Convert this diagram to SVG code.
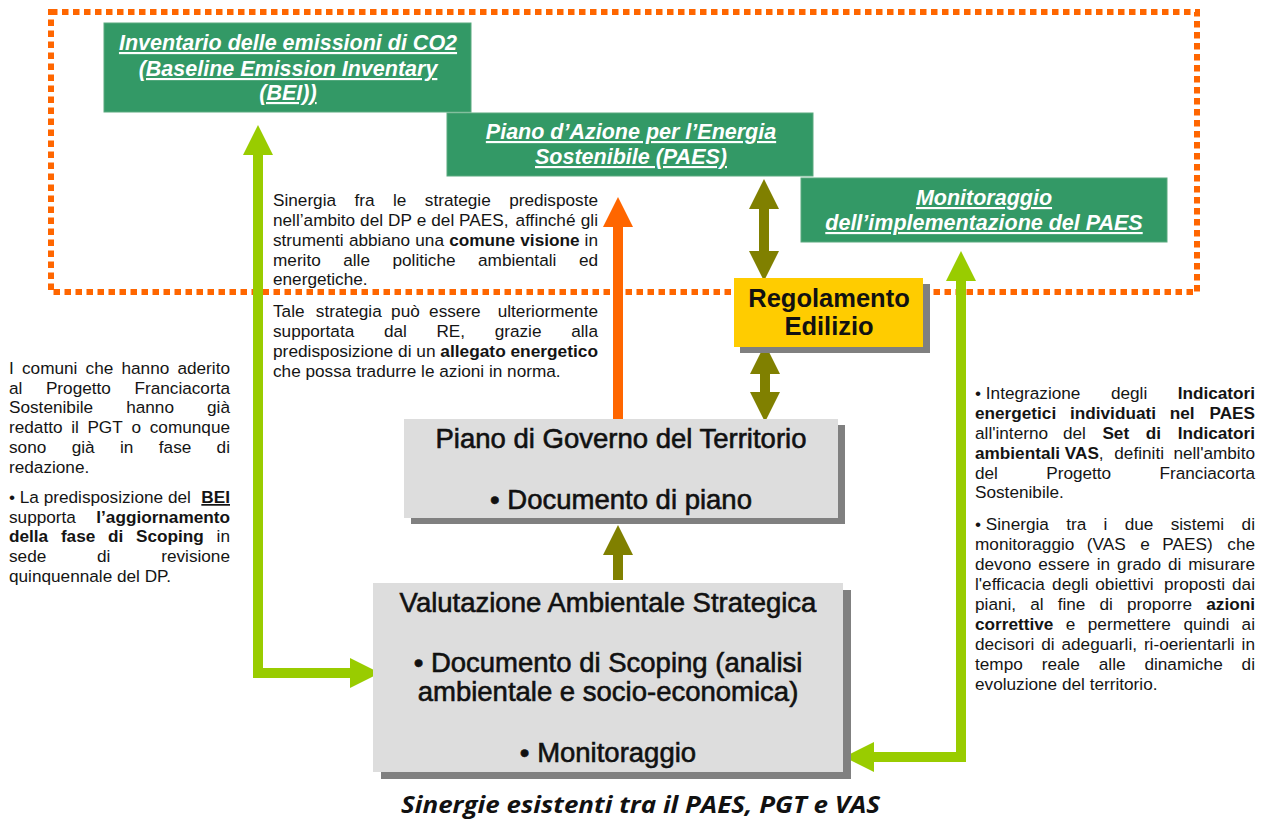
<svg xmlns="http://www.w3.org/2000/svg" width="1265" height="820" viewBox="0 0 1265 820">
<defs>
<style>
.t{font-family:"Liberation Sans",Arial,sans-serif;font-size:17.2px;fill:#141414}
.e{text-anchor:end}
.b{font-weight:bold}
.u{text-decoration:underline}
.g{font-family:"Liberation Sans",Arial,sans-serif;font-size:21.5px;font-style:italic;font-weight:bold;fill:#fff;text-decoration:underline;text-anchor:middle}
.bx{font-family:"Liberation Sans",Arial,sans-serif;font-size:27.5px;fill:#111;stroke:#111;stroke-width:0.6;text-anchor:middle}
.gb{fill:#339966;stroke:#5aa97f;stroke-width:1}
.gray{fill:#dddddd}
.sh{fill:#808080}
.c{fill:none;stroke-width:10;stroke-linejoin:miter}
</style>
<marker id="hG" markerUnits="userSpaceOnUse" markerWidth="30" markerHeight="30" viewBox="0 0 30 30" refX="0" refY="15" orient="auto-start-reverse"><path d="M0,0 L30,15 L0,30 z" fill="#99cc00"/></marker>
<marker id="hO" markerUnits="userSpaceOnUse" markerWidth="30" markerHeight="30" viewBox="0 0 30 30" refX="0" refY="15" orient="auto-start-reverse"><path d="M0,0 L30,15 L0,30 z" fill="#ff6600"/></marker>
<marker id="hV" markerUnits="userSpaceOnUse" markerWidth="30" markerHeight="30" viewBox="0 0 30 30" refX="0" refY="15" orient="auto-start-reverse"><path d="M0,0 L30,15 L0,30 z" fill="#808000"/></marker>
</defs>
<rect width="1265" height="820" fill="#fff"/>

<rect id="frame" x="51" y="12" width="1146" height="280" fill="none" stroke="#ff6600" stroke-width="6" stroke-dasharray="6.5 4.5"/>

<g id="bei">
<rect class="gb" x="104" y="23" width="367" height="89"/>
<text class="g" x="288" y="50">Inventario delle emissioni di CO2</text>
<text class="g" x="288" y="76">(Baseline Emission Inventary</text>
<text class="g" x="288" y="100">(BEI))</text>
</g>

<g id="paes">
<rect class="gb" x="447" y="113" width="366" height="63"/>
<text class="g" x="631" y="139">Piano d’Azione per l’Energia</text>
<text class="g" x="631" y="164">Sostenibile (PAES)</text>
</g>

<g id="monit">
<rect class="gb" x="801" y="178" width="366" height="64"/>
<text class="g" x="984" y="205">Monitoraggio</text>
<text class="g" x="984" y="230">dell’implementazione del PAES</text>
</g>

<g id="connectors">
<path class="c" stroke="#99cc00" d="M258,155 V673 H350" marker-start="url(#hG)" marker-end="url(#hG)"/>
<path class="c" stroke="#99cc00" d="M961,281 V757 H874" marker-start="url(#hG)" marker-end="url(#hG)"/>
<path class="c" stroke="#ff6600" d="M618,419 V227" marker-end="url(#hO)"/>
<path class="c" stroke="#808000" d="M764,209 V251" marker-start="url(#hV)" marker-end="url(#hV)"/>
<path class="c" stroke="#808000" d="M765,374 V392" marker-start="url(#hV)" marker-end="url(#hV)"/>
<path class="c" stroke="#808000" d="M618,580 V555" marker-end="url(#hV)"/>
</g>

<g id="re">
<rect class="sh" x="740" y="284" width="190" height="69"/>
<rect x="734" y="278" width="189" height="69" fill="#ffcc00"/>
<text x="829" y="307" font-family="Liberation Sans, Arial, sans-serif" font-size="25.5" font-weight="bold" fill="#111" text-anchor="middle">Regolamento</text>
<text x="829" y="335" font-family="Liberation Sans, Arial, sans-serif" font-size="25.5" font-weight="bold" fill="#111" text-anchor="middle">Edilizio</text>
</g>

<g id="pgt">
<rect class="sh" x="411" y="425" width="434" height="99"/>
<rect class="gray" x="404" y="419" width="434" height="99"/>
<text class="bx" x="621" y="448">Piano di Governo del Territorio</text>
<text class="bx" x="621" y="509">• Documento di piano</text>
</g>

<g id="vas">
<rect class="sh" x="381" y="590" width="470" height="189"/>
<rect class="gray" x="373" y="583" width="470" height="189"/>
<text class="bx" x="608" y="612">Valutazione Ambientale Strategica</text>
<text class="bx" x="608" y="672">• Documento di Scoping (analisi</text>
<text class="bx" x="608" y="701">ambientale e socio-economica)</text>
<text class="bx" x="608" y="762">• Monitoraggio</text>
</g>

<g id="note-middle" class="t">
<text y="206"><tspan x="273">Sinergia</tspan><tspan x="354.5">fra</tspan><tspan x="393">le</tspan><tspan x="424.8">strategie</tspan></text>
<text class="e" x="598" y="206">predisposte</text>
<text y="226"><tspan x="273">nell’ambito</tspan><tspan x="360.1">del</tspan><tspan x="388">DP</tspan><tspan x="416.8">e</tspan><tspan x="431.3">del</tspan><tspan x="459.1">PAES,</tspan><tspan x="515.6">affinché</tspan></text>
<text class="e" x="598" y="226">gli</text>
<text y="246"><tspan x="273">strumenti</tspan><tspan x="348.9">abbiano</tspan><tspan x="415.3">una</tspan><tspan x="449.2" class="b">comune</tspan><tspan x="520.3" class="b">visione</tspan></text>
<text class="e" x="598" y="246">in</text>
<text y="266"><tspan x="273">merito</tspan><tspan x="343.2">alle</tspan><tspan x="392.5">politiche</tspan><tspan x="478">ambientali</tspan></text>
<text class="e" x="598" y="266">ed</text>
<text x="273" y="285">energetiche.</text>
<text y="317"><tspan x="273">Tale</tspan><tspan x="315.8">strategia</tspan><tspan x="391.1">può</tspan><tspan x="429.1">essere</tspan></text>
<text class="e" x="598" y="317">ulteriormente</text>
<text y="337"><tspan x="273">supportata</tspan><tspan x="383.9">dal</tspan><tspan x="436.4">RE,</tspan><tspan x="494.7">grazie</tspan></text>
<text class="e" x="598" y="337">alla</text>
<text x="273" y="357" textLength="325" lengthAdjust="spacingAndGlyphs">predisposizione di un <tspan class="b">allegato energetico</tspan></text>
<text x="273" y="377">che possa tradurre le azioni in norma.</text>
</g>

<g id="note-left" class="t">
<text y="374"><tspan x="9">I</tspan><tspan x="22">comuni</tspan><tspan x="85.6">che</tspan><tspan x="121.5">hanno</tspan></text>
<text class="e" x="230" y="374">aderito</text>
<text y="394"><tspan x="9">al</tspan><tspan x="45.9">Progetto</tspan></text>
<text class="e" x="230" y="394">Franciacorta</text>
<text y="413"><tspan x="9">Sostenibile</tspan><tspan x="126.2">hanno</tspan></text>
<text class="e" x="230" y="413">già</text>
<text y="433"><tspan x="9">redatto</tspan><tspan x="71.2">il</tspan><tspan x="87.4">PGT</tspan><tspan x="131.5">o</tspan></text>
<text class="e" x="230" y="433">comunque</text>
<text y="453"><tspan x="9">sono</tspan><tspan x="71.7">già</tspan><tspan x="120">in</tspan><tspan x="158.8">fase</tspan></text>
<text class="e" x="230" y="453">di</text>
<text x="9" y="473">redazione.</text>
<text x="9" y="503">• La predisposizione del</text>
<text class="e b u" x="230" y="503">BEI</text>
<text x="9" y="523">supporta</text>
<text class="e b" x="230" y="523">l’aggiornamento</text>
<text y="542" class="b"><tspan x="9">della</tspan><tspan x="60.9">fase</tspan><tspan x="108">di</tspan><tspan x="136">Scoping</tspan></text>
<text class="e" x="230" y="542">in</text>
<text y="562"><tspan x="9">sede</tspan><tspan x="97">di</tspan></text>
<text class="e" x="230" y="562">revisione</text>
<text x="9" y="582">quinquennale del DP.</text>
</g>

<g id="note-right" class="t">
<text y="399"><tspan x="975">• Integrazione</tspan><tspan x="1110.9">degli</tspan></text>
<text class="e b" x="1255" y="399">Indicatori</text>
<text y="419" class="b"><tspan x="975">energetici</tspan><tspan x="1070">individuati</tspan><tspan x="1169.7">nel</tspan></text>
<text class="e b" x="1255" y="419">PAES</text>
<text y="439"><tspan x="975">all'interno</tspan><tspan x="1062.9">del</tspan><tspan x="1102.4" class="b">Set</tspan><tspan x="1145.8" class="b">di</tspan></text>
<text class="e b" x="1255" y="439">Indicatori</text>
<text y="459"><tspan x="975" class="b">ambientali VAS</tspan>,<tspan x="1114.3">definiti</tspan></text>
<text class="e" x="1255" y="459">nell'ambito</text>
<text y="479"><tspan x="975">del</tspan><tspan x="1046.2">Progetto</tspan></text>
<text class="e" x="1255" y="479">Franciacorta</text>
<text x="975" y="498">Sostenibile.</text>
<text y="530"><tspan x="975">• Sinergia</tspan><tspan x="1066.2">tra</tspan><tspan x="1103.6">i</tspan><tspan x="1124.7">due</tspan><tspan x="1170.7">sistemi</tspan></text>
<text class="e" x="1255" y="530">di</text>
<text y="550"><tspan x="975">monitoraggio</tspan><tspan x="1086.8">(VAS</tspan><tspan x="1140.3">e</tspan><tspan x="1162.3">PAES)</tspan></text>
<text class="e" x="1255" y="550">che</text>
<text y="570"><tspan x="975">devono</tspan><tspan x="1038.3">essere</tspan><tspan x="1096.8">in</tspan><tspan x="1117.1">grado</tspan><tspan x="1167.9">di</tspan></text>
<text class="e" x="1255" y="570">misurare</text>
<text y="590"><tspan x="975">l'efficacia</tspan><tspan x="1052.1">degli</tspan><tspan x="1095.3">obiettivi</tspan><tspan x="1163.9">proposti</tspan></text>
<text class="e" x="1255" y="590">dai</text>
<text y="610"><tspan x="975">piani,</tspan><tspan x="1030.2">al</tspan><tspan x="1057.7">fine</tspan><tspan x="1099.5">di</tspan><tspan x="1127">proporre</tspan></text>
<text class="e b" x="1255" y="610">azioni</text>
<text y="630"><tspan x="975" class="b">correttive</tspan><tspan x="1065.8">e</tspan><tspan x="1087.8">permettere</tspan><tspan x="1183.4">quindi</tspan></text>
<text class="e" x="1255" y="630">ai</text>
<text y="650"><tspan x="975">decisori</tspan><tspan x="1041.2">di</tspan><tspan x="1061.5">adeguarli,</tspan><tspan x="1143.9">ri-oerientarli</tspan></text>
<text class="e" x="1255" y="650">in</text>
<text y="670"><tspan x="975">tempo</tspan><tspan x="1041.7">reale</tspan><tspan x="1098.8">alle</tspan><tspan x="1144.4">dinamiche</tspan></text>
<text class="e" x="1255" y="670">di</text>
<text x="975" y="690">evoluzione del territorio.</text>
</g>

<text id="caption" x="401" y="813" textLength="479" lengthAdjust="spacingAndGlyphs" font-family="Open Sans, Liberation Sans, sans-serif" font-size="24" font-style="italic" font-weight="bold" fill="#111">Sinergie esistenti tra il PAES, PGT e VAS</text>
</svg>
